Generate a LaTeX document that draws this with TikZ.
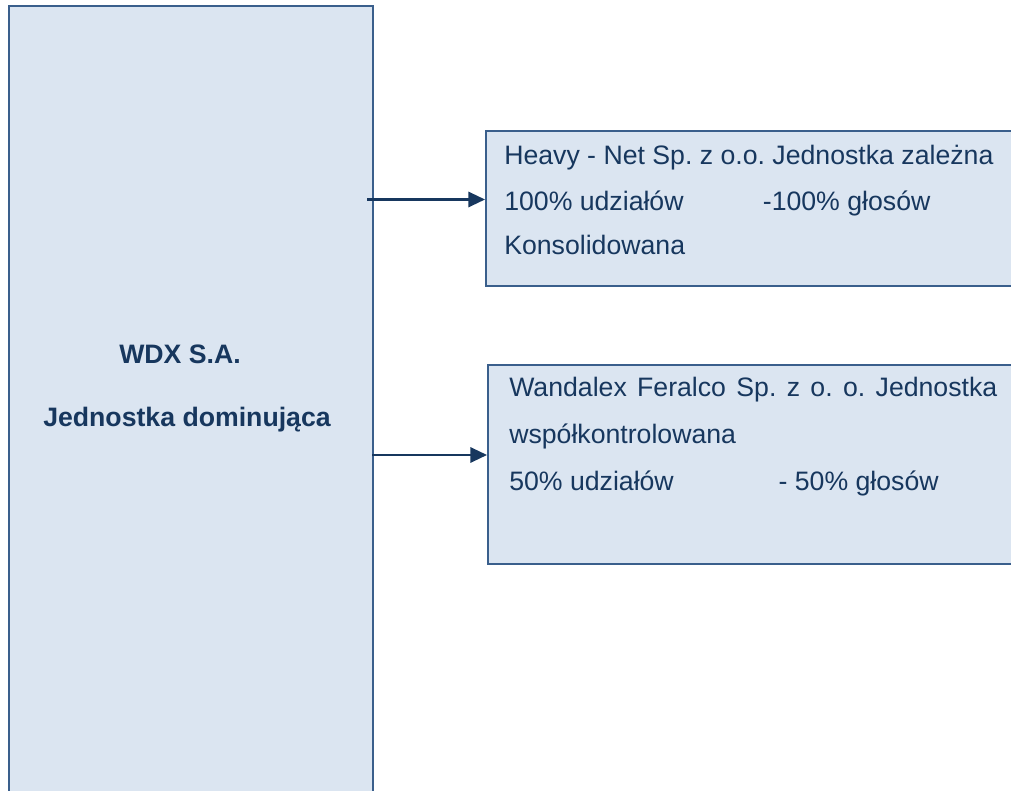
\documentclass[tikz,border=0pt]{standalone}
\usepackage{fontspec}
\setmainfont{Liberation Sans}
\usetikzlibrary{positioning,arrows.meta}
\definecolor{boxfill}{HTML}{DBE5F1}
\definecolor{boxline}{HTML}{3A5F8C}
\definecolor{navy}{HTML}{17375E}
\frenchspacing
\begin{document}
\begin{tikzpicture}[
x=0.75pt,y=-0.75pt,
box/.style={rectangle,fill=boxfill,draw=boxline,line width=1.2pt,inner sep=0pt,anchor=north west},
txt/.style={text=navy,font=\fontsize{20}{24}\selectfont,inner sep=0pt,anchor=base west},
head/.style={text=navy,font=\fontsize{20}{24}\selectfont\bfseries,inner sep=0pt,anchor=base},
link/.style={draw=navy,line width=1.6pt,-{Triangle[length=12.5pt,width=11.5pt]}},
]
\useasboundingbox (0,0) rectangle (1011,791);
\clip (0,0) rectangle (1011,791);
% boxes
\node[box,minimum width=273pt,minimum height=600pt] (wdx) at (8,5) {};
\node[box,minimum width=399pt,minimum height=116.25pt] (heavy) at (485,130) {};
\node[box,minimum width=396.75pt,minimum height=149.25pt] (wandalex) at (487,364) {};
% parent
\node[head] (wdxname) at (180,364) {WDX S.A.};
\node[head] (wdxrole) at (187,427) {Jednostka dominująca};
% subsidiaries
\node[txt] (heavy1) at (504,165) {Heavy - Net Sp. z o.o. Jednostka zależna};
\node[txt] (heavy2) at (504,211) {\makebox[194pt][l]{100\% udziałów}-100\% głosów};
\node[txt] (heavy3) at (504,255) {Konsolidowana};
\node[txt] (wand1) at (509,397) {\makebox[366pt][s]{Wandalex Feralco Sp. z o. o. Jednostka}};
\node[txt] (wand2) at (509,444) {współkontrolowana};
\node[txt] (wand3) at (509,491) {\makebox[202pt][l]{50\% udziałów}- 50\% głosów};
% links
\coordinate (out1) at (367,199.5);
\coordinate (out2) at (372,455);
\draw[link] (out1) -- (out1 -| heavy.west);
\draw[link] (out2) -- (out2 -| wandalex.west);
\end{tikzpicture}
\end{document}
